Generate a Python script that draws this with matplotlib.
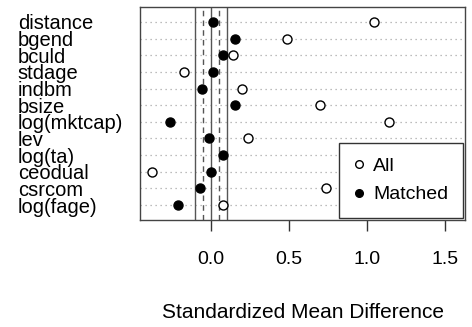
import matplotlib.pyplot as plt
import matplotlib.lines as mlines

plt.rcParams['font.family'] = ['Liberation Sans', 'DejaVu Sans']

# covariates, top to bottom
covariates = ["distance", "bgend", "bculd", "stdage", "indbm", "bsize",
              "log(mktcap)", "lev", "log(ta)", "ceodual", "csrcom", "log(fage)"]
smd_all = [1.045, 0.49, 0.14, -0.175, 0.20, 0.70, 1.14, 0.24, 1.20, -0.38, 0.74, 0.075]
smd_matched = [0.013, 0.155, 0.075, 0.015, -0.055, 0.155, -0.26, -0.012, 0.075, 0.0, -0.07, -0.21]
xticks = [0.0, 0.5, 1.0, 1.5]

n = len(covariates)
ypos = [n - i for i in range(n)]

fig = plt.figure(figsize=(4.72, 3.27), dpi=100)
ax = fig.add_axes([140/472, 1-220/327, 325/472, 213/327])

for y in ypos:
    ax.axhline(y, color='#a8a8a8', lw=0.9, ls=(0, (1, 3)), zorder=1)

for v in (-0.1, 0.0, 0.1):
    ax.axvline(v, color='#555555', lw=1.0, zorder=2)
for v in (-0.05, 0.05):
    ax.axvline(v, color='#555555', lw=1.0, ls=(0, (4, 3)), zorder=2)

ax.plot(smd_all, ypos, 'o', ms=6.5, mfc='white', mec='black', mew=1.0, ls='none', zorder=3)
ax.plot(smd_matched, ypos, 'o', ms=6.5, mfc='black', mec='black', ls='none', zorder=3)

ax.set_xlim(-0.455, 1.628)
ax.set_ylim(0.1, 12.9)

ax.set_xticks(xticks)
ax.set_xticklabels(['%.1f' % t for t in xticks], fontsize=14)
ax.tick_params(axis='x', length=8, width=1, pad=14, color='#333333')

ax.set_yticks(ypos)
ax.set_yticklabels(covariates, fontsize=14.5, ha='left')
ax.tick_params(axis='y', length=0, pad=88)

for s in ax.spines.values():
    s.set_color('#444444')
    s.set_linewidth(1.0)

fig.text(303.5/472, 1-312/327, 'Standardized Mean Difference', fontsize=15,
         ha='center', va='center')

h_all = mlines.Line2D([], [], marker='o', ls='none', ms=5.5, mfc='white', mec='black')
h_m = mlines.Line2D([], [], marker='o', ls='none', ms=5.5, mfc='black', mec='black')
leg = ax.legend([h_all, h_m], ['All', 'Matched'], loc='lower right',
                bbox_to_anchor=(1.0 - 2/325, 2/213), fontsize=14, fancybox=False,
                framealpha=1, edgecolor='#333333', handlelength=0.5,
                handletextpad=0.5, borderpad=0.75, labelspacing=0.55,
                borderaxespad=0)
leg.get_frame().set_linewidth(1.0)
leg.set_zorder(5)

fig.savefig('out.png', dpi=100)
